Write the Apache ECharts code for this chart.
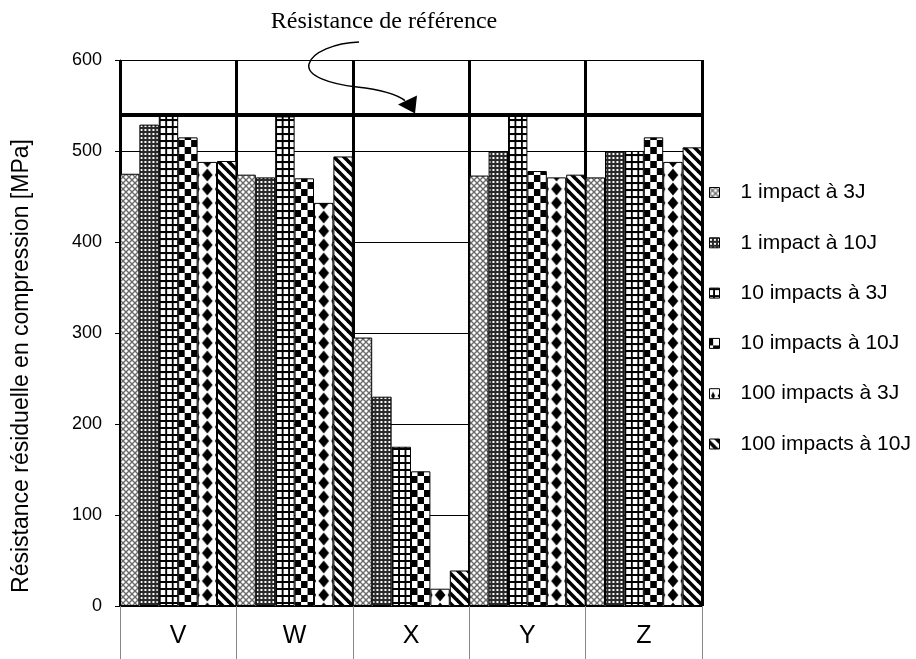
<!DOCTYPE html>
<html><head><meta charset="utf-8">
<script src="https://cdn.jsdelivr.net/npm/echarts@6/dist/echarts.min.js"></script>
<style>html,body{margin:0;padding:0;background:#fff}#c{width:916px;height:659px}</style>
</head><body><div id="c"></div>
<script>
// ---- data ----
const categories = ['V', 'W', 'X', 'Y', 'Z'];
const seriesNames = ['1 impact à 3J', '1 impact à 10J', '10 impacts à 3J', '10 impacts à 10J', '100 impacts à 3J', '100 impacts à 10J'];
const impact1at3J = [475, 474, 295, 473, 471];
const impact1at10J = [529, 471, 230, 500, 500];
const impacts10at3J = [540, 538, 175, 540, 500];
const impacts10at10J = [515, 470, 148, 478, 515];
const impacts100at3J = [488, 443, 19, 471, 488];
const impacts100at10J = [489, 494, 39, 474, 504];
const referenceValue = 540;
const yMin = 0, yMax = 600, yStep = 100;
const yTitle = 'Résistance résiduelle en compression [MPa]';
const annotationText = 'Résistance de référence';

// ---- layout / style ----
const GRID_LEFT = 120, GRID_RIGHT_EDGE = 702, GRID_TOP = 60, GRID_BOTTOM_EDGE = 606;
const gridW = GRID_RIGHT_EDGE - GRID_LEFT;
const barW = gridW / (categories.length * seriesNames.length);
const FONT = "'Liberation Sans', Arial, sans-serif";

function mk(w, h, draw) {
  const c = document.createElement('canvas');
  c.width = w; c.height = h;
  const g = c.getContext('2d');
  g.fillStyle = '#fff'; g.fillRect(0, 0, w, h);
  draw(g, w, h);
  return c;
}
// 1: gray diamond lattice
const p1 = mk(6, 6, (g) => {
  g.fillStyle = '#b8b8b8'; g.fillRect(0, 0, 6, 6);
  g.fillStyle = '#6a6a6a';
  for (let i = 0; i < 6; i++) { g.fillRect(i, i, 1, 1); g.fillRect(5 - i, i, 1, 1); }
  g.fillStyle = '#ffffff';
  g.fillRect(0, 2, 1, 2); g.fillRect(5, 2, 1, 2); g.fillRect(2, 0, 2, 1); g.fillRect(2, 5, 2, 1);
});
// 2: dark with white dots
const p2 = mk(4, 4, (g) => {
  g.fillStyle = '#2a2a2a'; g.fillRect(0, 0, 4, 4);
  g.fillStyle = '#ffffff'; g.fillRect(1, 1, 2, 2);
});
// 3: black grid, white squares
const p3 = mk(7, 7, (g) => {
  g.fillStyle = '#000'; g.fillRect(0, 0, 7, 2); g.fillRect(0, 0, 2, 7);
});
// 4: checkerboard
const p4 = mk(14, 14, (g) => {
  g.fillStyle = '#000'; g.fillRect(0, 0, 7, 7); g.fillRect(7, 7, 7, 7);
});
// 5: stacked diamonds
const p5 = mk(20, 14, (g) => {
  g.fillStyle = '#000';
  g.beginPath(); g.moveTo(10, 0.5); g.lineTo(15.5, 7); g.lineTo(10, 13.5); g.lineTo(4.5, 7); g.closePath(); g.fill();
  g.beginPath(); g.moveTo(0, 3); g.lineTo(2, 7); g.lineTo(0, 11); g.closePath(); g.fill();
  g.beginPath(); g.moveTo(20, 3); g.lineTo(18, 7); g.lineTo(20, 11); g.closePath(); g.fill();
});
// 6: diagonal "\" stripes
const p6 = mk(10, 10, (g) => {
  g.strokeStyle = '#000'; g.lineWidth = 3.6;
  for (let k = -1; k <= 1; k++) {
    g.beginPath(); g.moveTo(k * 10 - 2, -2); g.lineTo(k * 10 + 12, 12); g.stroke();
  }
});

function pat(img, k, sx) {
  return { image: img, repeat: 'repeat', x: GRID_LEFT + k * barW, y: 0, scaleX: sx || 1, scaleY: 1 };
}
const patterns = [
  pat(p1, 0), pat(p2, 1), pat(p3, 2, barW / 21),
  pat(p4, 3, barW / 21), pat(p5, 4, barW / 20), pat(p6, 5)
];
const values = [impact1at3J, impact1at10J, impacts10at3J, impacts10at10J, impacts100at3J, impacts100at10J];

const chart = echarts.init(document.getElementById('c'), null, { renderer: 'canvas' });

const series = seriesNames.map((name, i) => {
  const s = {
    name, type: 'bar', data: values[i],
    barGap: '0%', barCategoryGap: '0%',
    itemStyle: { color: patterns[i], borderColor: '#000', borderWidth: 1 },
    emphasis: { disabled: true }
  };
  if (i === seriesNames.length - 1) {
    s.markLine = {
      silent: true, symbol: 'none', animation: false,
      label: { show: false },
      lineStyle: { color: '#000', width: 4, type: 'solid' },
      data: [{ yAxis: referenceValue }]
    };
  }
  return s;
});

chart.setOption({
  animation: false,
  backgroundColor: '#fff',
  textStyle: { fontFamily: FONT },
  grid: { left: GRID_LEFT, top: GRID_TOP, width: gridW, height: GRID_BOTTOM_EDGE - GRID_TOP, containLabel: false },
  legend: {
    orient: 'vertical', left: 704, top: 177,
    icon: 'rect', itemWidth: 10, itemHeight: 10, itemGap: 29.3,
    itemStyle: { borderColor: '#000', borderWidth: 1 },
    textStyle: { fontSize: 21, color: '#000', fontFamily: FONT, lineHeight: 21, padding: [0, 0, 0, 16] },
    data: seriesNames
  },
  xAxis: {
    type: 'category', data: categories,
    axisLine: { lineStyle: { color: '#000', width: 1 } },
    axisTick: { show: true, length: 56, lineStyle: { color: '#888', width: 1 } },
    axisLabel: { fontSize: 25, color: '#000', margin: 18, fontFamily: FONT },
    splitLine: { show: true, lineStyle: { color: '#000', width: 3 } }
  },
  yAxis: {
    type: 'value', min: yMin, max: yMax, interval: yStep,
    axisLine: { show: true, lineStyle: { color: '#000', width: 1 } },
    axisTick: { show: true, length: 5, lineStyle: { color: '#000' } },
    axisLabel: { fontSize: 18, color: '#000', margin: 18, fontFamily: FONT },
    splitLine: { show: true, lineStyle: { color: '#000', width: 1 } }
  },
  series
});

// annotation (curved arrow pointing to the reference line) and axis title
const tip = chart.convertToPixel({ xAxisIndex: 0, yAxisIndex: 0 }, [2, referenceValue]);
const tx = tip[0] + 4, ty = tip[1] - 1;
chart.setOption({
  graphic: [
    { type: 'text', x: 22, y: 366, rotation: Math.PI / 2,
      style: { text: yTitle, font: "23px 'Liberation Sans', Arial, sans-serif", fill: '#000', textAlign: 'center', textVerticalAlign: 'middle' } },
    { type: 'text', x: 384, y: 10, style: { text: annotationText, font: "24px 'Liberation Serif', 'Times New Roman', serif", fill: '#000', textAlign: 'center' } },
    { type: 'bezierCurve', shape: { x1: 359, y1: 42, cpx1: 335, cpy1: 43, cpx2: 312, cpy2: 52, x2: 309, y2: 64 }, style: { fill: null, stroke: '#000', lineWidth: 1.5 } },
    { type: 'bezierCurve', shape: { x1: 309, y1: 64, cpx1: 306, cpy1: 76, cpx2: 330, cpy2: 84, x2: 357, y2: 87 }, style: { fill: null, stroke: '#000', lineWidth: 1.5 } },
    { type: 'bezierCurve', shape: { x1: 357, y1: 87, cpx1: 375, cpy1: 89, cpx2: 395, cpy2: 93, x2: tx - 10, y2: ty - 13 }, style: { fill: null, stroke: '#000', lineWidth: 1.5 } },
    { type: 'polygon', shape: { points: [[tx - 17, ty - 9], [tx + 2, ty - 18], [tx, ty]] }, style: { fill: '#000' } }
  ]
});
</script>
</body></html>
